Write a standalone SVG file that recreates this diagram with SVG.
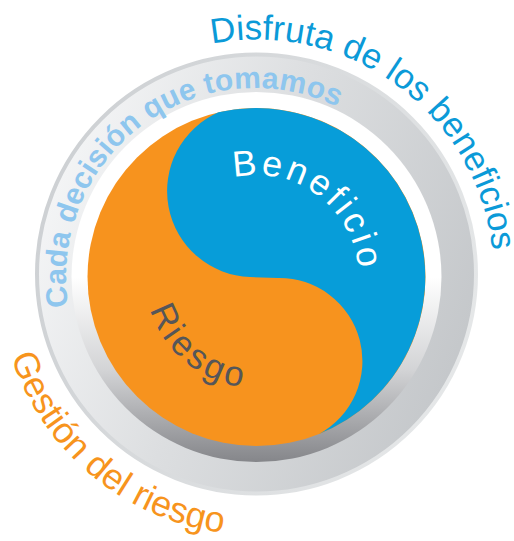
<svg xmlns="http://www.w3.org/2000/svg" width="514" height="541" viewBox="0 0 514 541">
  <style>
    .t { font-family: "Liberation Sans", Arial, sans-serif; }
    .bold { font-weight: bold; }
  </style>
  <defs>
    <linearGradient id="ringBody" x1="0" y1="0.3" x2="1" y2="0.7">
      <stop offset="0" stop-color="#f5f6f7"/>
      <stop offset="0.45" stop-color="#dcdee0"/>
      <stop offset="1" stop-color="#c3c6c9"/>
    </linearGradient>
    <linearGradient id="ringRim" x1="0" y1="0.3" x2="1" y2="0.7">
      <stop offset="0" stop-color="#cdd0d3"/>
      <stop offset="1" stop-color="#e6e8e9"/>
    </linearGradient>
    <linearGradient id="bevel" x1="0" y1="0" x2="0" y2="1">
      <stop offset="0" stop-color="#ffffff"/>
      <stop offset="0.5" stop-color="#ffffff"/>
      <stop offset="0.75" stop-color="#d3d4d6"/>
      <stop offset="1" stop-color="#85868a"/>
    </linearGradient>
    <path id="pCada" d="M 68.33 306.57 A 189 189 0 0 1 441.13 244.18"/>
    <path id="pDisfruta" d="M 212.0 43.71 A 237.5 237.5 0 0 1 479.68 358.23"/>
    <path id="pGestion" d="M 11.13 356.73 A 258 258 0 0 0 385.5 500.44"/>
    <path id="pBeneficio" d="M 233.56 177.61 A 102 102 0 0 1 344.83 328"/>
    <path id="pRiesgo" d="M 150.35 309.45 A 111 111 0 0 0 312 373.13"/>
  </defs>

  <g id="ring">
    <circle cx="256.5" cy="274" r="219.5" fill="url(#ringBody)" stroke="url(#ringRim)" stroke-width="4"/>
    <circle cx="256.5" cy="277" r="185" fill="url(#bevel)"/>
  </g>

  <g id="disc">
    <circle id="riesgo-area" cx="256.5" cy="277" r="169" fill="#f7931e"/>
    <path id="beneficio-area" fill="#079dd9"
      d="M 218.48 112.33 A 169 169 0 0 1 318.7 434.1 A 83 83 0 0 0 278 278 L 250 277 A 86 86 0 0 1 218.48 112.33 Z"/>
  </g>

  <g id="label-cada">
    <text class="t bold" font-size="30" letter-spacing="0.2" fill="#8ec6ee"><textPath href="#pCada">Cada decisión que tomamos</textPath></text>
  </g>
  <g id="label-disfruta">
    <text class="t" font-size="35" fill="#0b9ad8"><textPath href="#pDisfruta">Disfruta de los beneficios</textPath></text>
  </g>
  <g id="label-gestion">
    <text class="t" font-size="36" fill="#f7941d"><textPath href="#pGestion">Gestión del riesgo</textPath></text>
  </g>
  <g id="label-beneficio">
    <text class="t" font-size="36" letter-spacing="3.3" fill="#ffffff"><textPath href="#pBeneficio">Beneficio</textPath></text>
  </g>
  <g id="label-riesgo">
    <text class="t" font-size="35" letter-spacing="3.5" fill="#555659"><textPath href="#pRiesgo">Riesgo</textPath></text>
  </g>
</svg>
